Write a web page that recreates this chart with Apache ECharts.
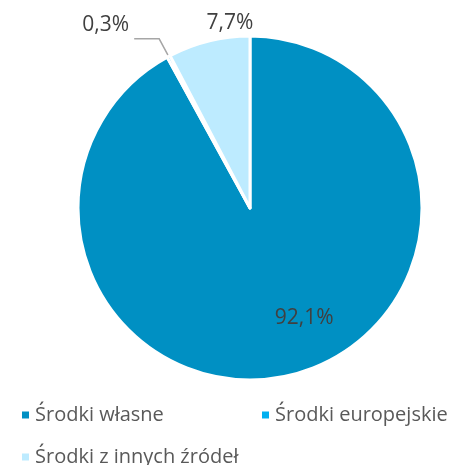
<!DOCTYPE html>
<html><head><meta charset="utf-8">
<script src="https://cdn.jsdelivr.net/npm/echarts@6/dist/echarts.min.js"></script>
<style>html,body{margin:0;padding:0;background:#fff}#c{width:453px;height:465px}</style>
</head><body><div id="c"></div>
<script>
const categories = ['Środki własne', 'Środki europejskie', 'Środki z innych źródeł'];
const values = [92.1, 0.3, 7.7];
const colors = ['#0090C3', '#00B0F0', '#BDEBFF'];
const fmt = v => v.toFixed(1).replace('.', ',') + '%';
const labelStyles = [
  {position: 'inside'},
  {position: 'outside', formatter: p => '{a|' + fmt(p.value) + '}\n{b|}'},
  {position: 'outside'}
];
const labelLines = [{show:false},{show:true, length: 20, length2: 25, lineStyle:{color:'#A6A6A6', width:1.5}},{show:false}];
const offsets = [[32, 24], [0, 0], [83, -3]];

const chart = echarts.init(document.getElementById('c'));
const fontFam = '"Open Sans", "Noto Sans", sans-serif';
const legendText = {fontFamily: fontFam, fontSize: 20, color: '#595959', lineHeight: 24};
chart.setOption({
  animation: false,
  legend: [{
    left: 15, top: 398, width: 440,
    itemWidth: 9, itemHeight: 9, icon: 'rect', itemGap: 10,
    textStyle: legendText,
    data: [{name: categories[0], textStyle: {width: 215}}, {name: categories[1]}]
  }, {
    left: 15, top: 440,
    itemWidth: 9, itemHeight: 9, icon: 'rect', itemGap: 10,
    textStyle: legendText,
    data: categories.slice(2)
  }],
  series: [{
    type: 'pie',
    radius: 172,
    center: [250, 208],
    startAngle: 90,
    clockwise: true,
    avoidLabelOverlap: false,
    itemStyle: {borderColor: '#fff', borderWidth: 3},
    label: {fontFamily: fontFam, fontSize: 21, color: '#404040', formatter: p => fmt(p.value),
      rich: {a: {fontFamily: fontFam, fontSize: 21, color: '#404040', height: 26}, b: {height: 28}}},
    labelLayout: function (p) {
      const o = offsets[p.dataIndex];
      return {dx: o[0], dy: o[1]};
    },
    data: categories.map((n, i) => ({
      name: n, value: values[i],
      itemStyle: {color: colors[i]},
      label: labelStyles[i],
      labelLine: labelLines[i]
    }))
  }]
});
</script></body></html>
